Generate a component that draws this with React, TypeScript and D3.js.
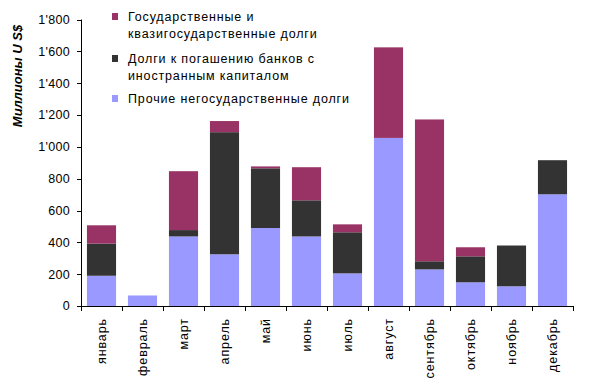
import React from 'react';
import * as d3 from 'd3';

const months = ['январь', 'февраль', 'март', 'апрель', 'май', 'июнь', 'июль', 'август', 'сентябрь', 'октябрь', 'ноябрь', 'декабрь'];
const otherDebt = [190, 66, 437, 325, 490, 437, 205, 1056, 230, 149, 124, 702];
const foreignBanks = [202, 0, 40, 767, 375, 227, 258, 0, 51, 163, 256, 214];
const stateDebt = [115, 0, 370, 70, 12, 208, 50, 569, 891, 57, 0, 0];
const yTicks = [0, 200, 400, 600, 800, 1000, 1200, 1400, 1600, 1800];

const seriesKeys = ['other', 'foreign', 'state'];
const colors = { other: '#9999FF', foreign: '#333333', state: '#993366' };
const legendItems = [
  { key: 'state', lines: ['Государственные и', 'квазигосударственные долги'] },
  { key: 'foreign', lines: ['Долги к погашению банков с', 'иностранным капиталом'] },
  { key: 'other', lines: ['Прочие негосударственные долги'] },
];

const W = 605;
const H = 392;
const left = 81;
const right = 573;
const top = 19.5;
const bottom = 306;
const font = 'Arial, "Liberation Sans", sans-serif';

const fmt = d3.formatLocale({ decimal: '.', thousands: "'", grouping: [3], currency: ['', ''] }).format(',d');

export default function App() {
  const rows = months.map((m, i) => ({ month: m, other: otherDebt[i], foreign: foreignBanks[i], state: stateDebt[i] }));
  const stacked = d3.stack().keys(seriesKeys)(rows as any);

  const x = d3.scaleBand().domain(months).range([left, right]).paddingInner(0.29).paddingOuter(0.145);
  const y = d3.scaleLinear().domain([0, 1800]).range([bottom, top]);
  const step = (right - left) / months.length;

  return (
    <svg width={W} height={H} style={{ position: 'absolute', left: 0, top: 0, background: '#fff' }} fontFamily={font}>
      {stacked.map((s) => (
        <g key={s.key} fill={colors[s.key]}>
          {s.map((d, i) => (
            d[1] - d[0] > 0 ? (
              <rect key={i} x={x(months[i])} width={x.bandwidth()} y={y(d[1])} height={y(d[0]) - y(d[1])} />
            ) : null
          ))}
        </g>
      ))}

      {/* y axis */}
      <line x1={left + 0.5} x2={left + 0.5} y1={top} y2={bottom + 0.5} stroke="#000" />
      {yTicks.map((t) => (
        <g key={t}>
          <line x1={left - 4} x2={left} y1={Math.round(y(t)) + 0.5} y2={Math.round(y(t)) + 0.5} stroke="#000" />
          <text x={70} y={y(t)} dy="0.35em" textAnchor="end" fontSize={12.5} letterSpacing={0.3} fill="#000">{fmt(t)}</text>
        </g>
      ))}

      {/* x axis */}
      <line x1={left} x2={right + 1} y1={bottom + 0.5} y2={bottom + 0.5} stroke="#000" />
      {d3.range(months.length + 1).map((i) => (
        <line key={i} x1={Math.round(left + i * step) + 0.5} x2={Math.round(left + i * step) + 0.5} y1={bottom} y2={bottom + 5} stroke="#000" />
      ))}
      {months.map((m) => (
        <text key={m} transform={`translate(${x(m) + x.bandwidth() / 2},${318}) rotate(-90)`} dy="0.35em" textAnchor="end" fontSize={12.5} letterSpacing={0.9} fill="#000">{m}</text>
      ))}

      <text transform="translate(22,76) rotate(-90)" textAnchor="middle" fontSize={13} fontWeight="bold" fontStyle="italic" fill="#000">Миллионы U S$</text>

      {/* legend */}
      {legendItems.map((it, k) => {
        const baseY = [21, 63, 103][k];
        return (
          <g key={it.key}>
            <rect x={112} y={baseY - 8} width={6} height={7} fill={colors[it.key]} />
            {it.lines.map((ln, j) => (
              <text key={j} x={128} y={baseY + j * 17} fontSize={12.5} letterSpacing={0.85} fill="#000">{ln}</text>
            ))}
          </g>
        );
      })}
    </svg>
  );
}
